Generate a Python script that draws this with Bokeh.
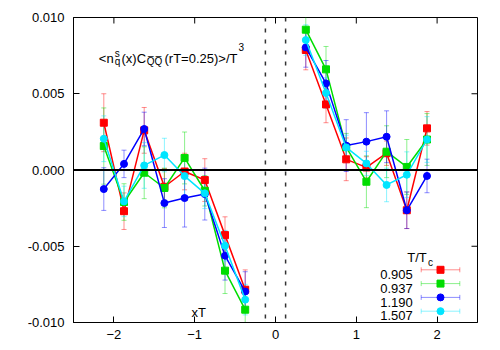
from bokeh.plotting import figure
from bokeh.models import (ColumnDataSource, Whisker, TeeHead, Span, Label,
                          FixedTicker, PrintfTickFormatter)
from bokeh.embed import file_html
from bokeh.resources import INLINE

# ---------------- data ----------------
x_left = [-2.125, -1.875, -1.625, -1.375, -1.125, -0.875, -0.625, -0.375]
x_right = [0.375, 0.625, 0.875, 1.125, 1.375, 1.625, 1.875]

series_names = ["0.905", "0.937", "1.190", "1.507"]

red_left = [0.0031, -0.0027, 0.0026, -0.0011, -0.0001, -0.00066, -0.00427, -0.00785]
red_right = [0.00787, 0.0043, 0.0007, 0.00017, 0.0011, -0.00264, 0.00273]
red_err_left = [0.0019, 0.0012, 0.0015, 0.0012, 0.0012, 0.0014, 0.0012, 0.0013]
red_err_right = [0.0013, 0.0012, 0.0014, 0.0007, 0.0008, 0.0012, 0.0011]

green_left = [0.00157, -0.0021, -0.00018, -0.00118, 0.00079, -0.00136, -0.0066, -0.00916]
green_right = [0.0092, 0.0066, 0.0015, -0.00077, 0.0012, 0.0002, 0.0020]
green_err_left = [0.0025, 0.0012, 0.0017, 0.0013, 0.0017, 0.0010, 0.0015, 0.0015]
green_err_right = [0.0012, 0.0015, 0.0009, 0.0017, 0.0017, 0.0018, 0.0017]

blue_left = [-0.00125, 0.0004, 0.00269, -0.00217, -0.00184, -0.00158, -0.00562, -0.00797]
blue_right = [0.00804, 0.00568, 0.0016, 0.00186, 0.00218, -0.00264, -0.00039]
blue_err_left = [0.0014, 0.0009, 0.0011, 0.0016, 0.0019, 0.0017, 0.0016, 0.0013]
blue_err_right = [0.0013, 0.0015, 0.0017, 0.0019, 0.0017, 0.0012, 0.0011]

cyan_left = [0.00205, -0.00206, 0.0003, 0.00098, -0.0004, -0.00153, -0.00496, -0.0085]
cyan_right = [0.00852, 0.00505, 0.00148, 0.00043, -0.00098, -0.00031, 0.0020]
cyan_err_left = [0.0015, 0.0010, 0.0015, 0.0011, 0.0013, 0.0010, 0.0010, 0.0010]
cyan_err_right = [0.0010, 0.0010, 0.0008, 0.0008, 0.0011, 0.0015, 0.0015]

x_ticks = [-2, -1, 0, 1, 2]
y_ticks = [-0.010, -0.005, 0.0, 0.005, 0.010]
dash_x = [-0.125, 0.125]

# ---------------- style ----------------
FONT = "Liberation Sans"
colors = ["#ff0000", "#00dd00", "#0000ff", "#00e5ff"]
markers = ["square", "square", "circle", "circle"]

W, H = 498, 348
ML, MR, MT, MB = 73, 21, 17, 26
XR = (-2.5, 2.5)
YR = (-0.010, 0.010)
FW = W - ML - MR
FH = H - MT - MB
DX = (XR[1] - XR[0]) / FW   # data per pixel
DY = (YR[1] - YR[0]) / FH


def px2x(px):  # picture pixel -> data x
    return XR[0] + (px - ML) * DX


def px2y(py):  # picture pixel -> data y
    return YR[1] - (py - MT) * DY


p = figure(width=W, height=H, x_range=XR, y_range=YR,
           output_backend="svg", toolbar_location=None,
           min_border_left=ML, min_border_right=MR,
           min_border_top=MT, min_border_bottom=MB)
p.xgrid.visible = False
p.ygrid.visible = False
p.outline_line_color = "black"
p.outline_line_width = 1
p.background_fill_color = "white"
p.border_fill_color = "white"

for ax in (p.xaxis[0], p.yaxis[0]):
    ax.major_tick_in = 6
    ax.major_tick_out = 0
    ax.minor_tick_line_color = None
    ax.axis_line_color = "black"
    ax.major_tick_line_color = "black"
    ax.major_label_text_font = FONT
    ax.major_label_text_font_size = "13px"
    ax.major_label_text_color = "black"
p.xaxis[0].ticker = FixedTicker(ticks=x_ticks)
p.yaxis[0].ticker = FixedTicker(ticks=y_ticks)
p.yaxis[0].formatter = PrintfTickFormatter(format="%.3f")
p.xaxis[0].major_label_standoff = 7
p.yaxis[0].major_label_standoff = 9

# mirrored inward ticks on the top and right frame edges
TL = 6
p.segment(x0=x_ticks, x1=x_ticks, y0=[YR[1]] * len(x_ticks),
          y1=[YR[1] - TL * DY] * len(x_ticks), line_color="black", line_width=1)
p.segment(x0=[XR[1]] * len(y_ticks), x1=[XR[1] - TL * DX] * len(y_ticks),
          y0=y_ticks, y1=y_ticks, line_color="black", line_width=1)

# reference lines
p.add_layout(Span(location=0, dimension="width", line_color="black", line_width=2))
for dx in dash_x:
    p.add_layout(Span(location=dx, dimension="height", line_color="#333333",
                      line_width=1.5, line_dash="4 7"))

all_sets = [
    (red_left, red_right, red_err_left, red_err_right),
    (green_left, green_right, green_err_left, green_err_right),
    (blue_left, blue_right, blue_err_left, blue_err_right),
    (cyan_left, cyan_right, cyan_err_left, cyan_err_right),
]

for i, (yl, yr, el, er) in enumerate(all_sets):
    c = colors[i]
    xs = x_left + x_right
    ys = yl + yr
    es = el + er
    src = ColumnDataSource(dict(x=xs, y=ys,
                                lo=[y - e for y, e in zip(ys, es)],
                                hi=[y + e for y, e in zip(ys, es)]))
    p.add_layout(Whisker(source=src, base="x", lower="lo", upper="hi",
                         dimension="height", line_color=c, line_alpha=0.45,
                         line_width=1,
                         lower_head=TeeHead(size=5, line_color=c, line_alpha=0.45),
                         upper_head=TeeHead(size=5, line_color=c, line_alpha=0.45)))
    p.line(x_left, yl, line_color=c, line_width=1.5)
    p.line(x_right, yr, line_color=c, line_width=1.5)
    p.scatter(xs, ys, marker=markers[i], size=7, fill_color=c, line_color=c)

# ---------------- texts ----------------
def lab(px, py, text, size="13px", align="left", font=FONT):
    p.add_layout(Label(x=px2x(px), y=px2y(py), text=text, text_font=font,
                       text_font_size=size, text_align=align,
                       text_baseline="alphabetic", text_color="black"))

lab(98.3, 58.3, "<n")
lab(114.3, 53.0, "s", size="10px")
lab(114.3, 61.0, "q", size="10px")
lab(121.0, 58.3, "(x)C")
lab(146.3, 61.3, "Q\u0305Q\u0305", size="10px")
lab(164.0, 58.3, "(rT=0.25)>/T")
lab(238.0, 46.7, "3", size="10px")

lab(198.3, 311.7, "xT", align="center")

# legend (text on the left, sample on the right)
lab(406.7, 256.7, "T/T")
lab(427.5, 261.5, "c", size="10px")
leg_y0, leg_dy = 269.3, 13.8
lx1, lx2, lxm = px2x(420.7), px2x(459.3), px2x(440.0)
cap = DY * 2.5
for i, name in enumerate(series_names):
    py = leg_y0 + i * leg_dy
    lab(412.3, py + 4.6, name, align="right")
    yy = px2y(py)
    c = colors[i]
    p.segment(x0=[lx1, lx1, lx2], y0=[yy, yy - cap, yy - cap],
              x1=[lx2, lx1, lx2], y1=[yy, yy + cap, yy + cap],
              line_color=c, line_alpha=0.45, line_width=1)
    p.scatter([lxm], [yy], marker=markers[i], size=7, fill_color=c, line_color=c)

open("out.html", "w").write(file_html(p, INLINE))
